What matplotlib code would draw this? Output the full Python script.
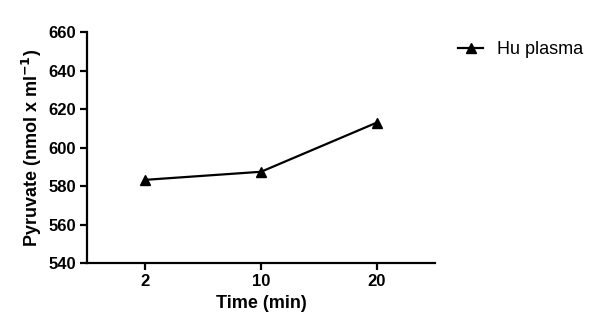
import matplotlib
matplotlib.use("Agg")
import matplotlib.pyplot as plt

plt.rcParams['font.family'] = ['Liberation Sans', 'DejaVu Sans']

time_labels = ["2", "10", "20"]
pyruvate = [583.2, 587.4, 613.0]
series_name = "Hu plasma"

fig = plt.figure(figsize=(6, 3.34), dpi=100)
ax = fig.add_axes([0.145, 0.2126, 0.58, 0.6914])

x = list(range(len(time_labels)))
ax.plot(x, pyruvate, color="black", lw=1.6, marker="^", ms=6.5, label=series_name)

ax.set_xlim(-0.5, len(time_labels) - 0.5)
ax.set_ylim(540, 660)
ax.set_yticks(range(540, 661, 20))
ax.set_xticks(x)
ax.set_xticklabels(time_labels)

for s in ["top", "right"]:
    ax.spines[s].set_visible(False)
for s in ["left", "bottom"]:
    ax.spines[s].set_linewidth(1.6)
ax.tick_params(axis="both", direction="out", width=1.6, length=5, labelsize=12, pad=3)
for lab in ax.get_xticklabels() + ax.get_yticklabels():
    lab.set_fontweight("bold")

ax.set_xlabel("Time (min)", fontsize=13, fontweight="bold", labelpad=4)
ax.set_ylabel("Pyruvate (nmol x ml$^{\\mathbf{-1}}$)", fontsize=13, fontweight="bold", labelpad=3)

fig.legend(loc="upper left", bbox_to_anchor=(0.737, 0.925), frameon=False, fontsize=13,
           handlelength=1.35, handletextpad=0.8)

fig.savefig("out.png", dpi=100)
